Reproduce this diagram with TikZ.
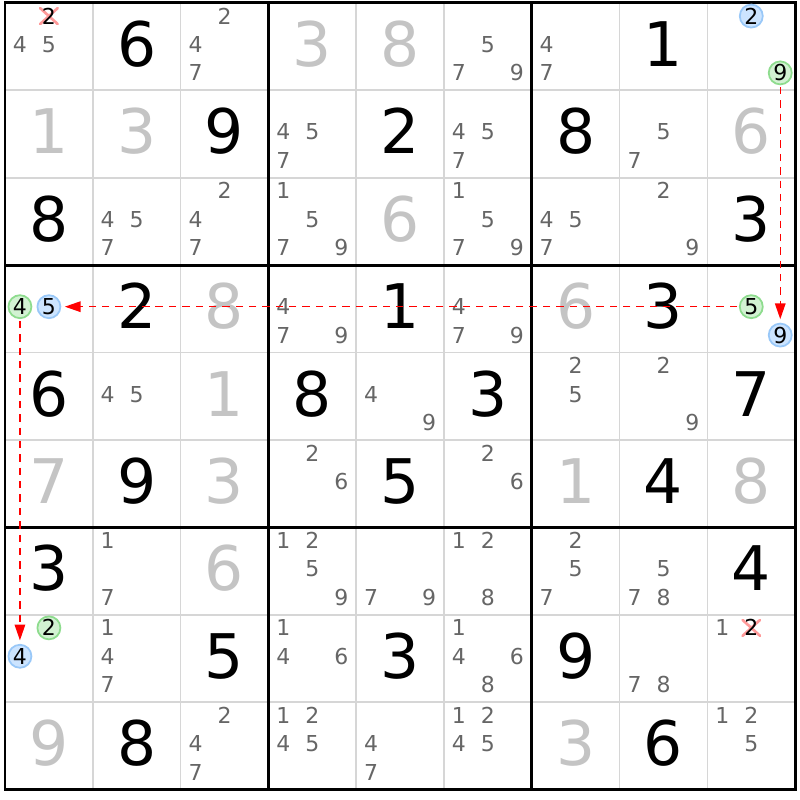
\documentclass[tikz,border=0pt]{standalone}
\usepackage{fontspec}
\setmainfont{DejaVu Sans}
\usetikzlibrary{arrows.meta}

\definecolor{gridgray}{HTML}{D6D6D6}
\definecolor{solvedgray}{HTML}{C4C4C4}
\definecolor{candgray}{HTML}{666666}
\definecolor{bluefill}{HTML}{CCE4FF}
\definecolor{blueline}{HTML}{99C8F8}
\definecolor{greenfill}{HTML}{D2F2D2}
\definecolor{greenline}{HTML}{8EDC8E}
\definecolor{crosspink}{HTML}{FF9A9A}
\definecolor{chainred}{HTML}{FF0000}
\newcommand{\bigsize}{\fontsize{35}{35}\selectfont}
\newcommand{\candsize}{\fontsize{12.5}{12.5}\selectfont}

\begin{document}
\begin{tikzpicture}[x=1.756cm,y=-1.748cm,>={Triangle[length=9pt,width=6pt]},
	given/.style={font=\bigsize,inner sep=0pt,text height=25.5pt,text depth=0pt},
	solved/.style={given,text=solvedgray},
	cand/.style={font=\candsize,text=candgray,inner sep=0pt,text height=9.1pt,text depth=0pt},
	bluecand/.style={cand,text=black,circle,minimum size=.46cm,draw=blueline,fill=bluefill,line width=1pt},
	greencand/.style={bluecand,draw=greenline,fill=greenfill},
	crossed/.style={cand,text=black,minimum width=11pt,minimum height=10pt,
		path picture={\draw[crosspink,line width=1.5pt]
			(path picture bounding box.south west) -- (path picture bounding box.north east)
			(path picture bounding box.north west) -- (path picture bounding box.south east);}},
	chain/.style={->,chainred,line width=.8pt,dash pattern=on 4.2pt off 3.4pt,shorten >=2pt,shorten <=1pt},
	gridline/.style={gridgray,line width=1pt},
	boxline/.style={black,line width=1.7pt,line cap=rect}
	]
	
	\useasboundingbox (-0.057,-0.034) rectangle (9.055,9.119);
	\fill[white] (-0.057,-0.034) rectangle (9.055,9.119);
	
	% the grid
	\foreach \i in {1,2,4,5,7,8}
		\draw[gridline] (\i,0) -- (\i,9) (0,\i) -- (9,\i);
	\foreach \i in {0,3,6,9}
		\draw[boxline] (\i,0) -- (\i,9) (0,\i) -- (9,\i);
	
	% givens and solved cells
	\foreach \rw/\cl/\dg in {1/2/6,1/8/1,2/3/9,2/5/2,2/7/8,3/1/8,3/9/3,4/2/2,4/5/1,4/8/3,
		5/1/6,5/4/8,5/6/3,5/9/7,6/2/9,6/5/5,6/8/4,7/1/3,7/9/4,8/3/5,8/5/3,8/7/9,9/2/8,9/8/6}
		\node[given] (g\rw\cl) at (\cl-.5,\rw-.53) {\dg};
	\foreach \rw/\cl/\dg in {1/4/3,1/5/8,2/1/1,2/2/3,2/9/6,3/5/6,4/3/8,4/7/6,
		5/3/1,6/1/7,6/3/3,6/7/1,6/9/8,7/3/6,9/1/9,9/7/3}
		\node[solved] (g\rw\cl) at (\cl-.5,\rw-.53) {\dg};
	
	% pencil marks
	\foreach \rw/\cl/\ks in {1/1/{4,5},1/3/{2,4,7},1/6/{5,7,9},1/7/{4,7},
		2/4/{4,5,7},2/6/{4,5,7},2/8/{5,7},
		3/2/{4,5,7},3/3/{2,4,7},3/4/{1,5,7,9},3/6/{1,5,7,9},3/7/{4,5,7},3/8/{2,9},
		4/4/{4,7,9},4/6/{4,7,9},
		5/2/{4,5},5/5/{4,9},5/7/{2,5},5/8/{2,9},
		6/4/{2,6},6/6/{2,6},
		7/2/{1,7},7/4/{1,2,5,9},7/5/{7,9},7/6/{1,2,8},7/7/{2,5,7},7/8/{5,7,8},
		8/2/{1,4,7},8/4/{1,4,6},8/6/{1,4,6,8},8/8/{7,8},8/9/{1},
		9/3/{2,4,7},9/4/{1,2,4,5},9/5/{4,7},9/6/{1,2,4,5},9/9/{1,2,5}}
		\foreach \k in \ks {
			\pgfmathtruncatemacro{\kx}{mod(\k-1,3)}
			\pgfmathtruncatemacro{\ky}{(\k-1)/3}
			\node[cand] (c\rw\cl-\k) at (\cl-.83+.33*\kx,\rw-.85+.325*\ky) {\k};
		}
	
	% eliminated candidates
	\node[crossed] (c11-2) at (.5,.15) {2};
	\node[crossed] (c89-2) at (8.5,7.15) {2};
	
	% the chain
	\node[bluecand] (c19-2) at (8.5,.15) {2};
	\node[greencand] (c19-9) at (8.83,.8) {9};
	\node[greencand] (c49-5) at (8.5,3.475) {5};
	\node[bluecand] (c49-9) at (8.83,3.8) {9};
	\node[greencand] (c41-4) at (.17,3.475) {4};
	\node[bluecand] (c41-5) at (.5,3.475) {5};
	\node[greencand] (c81-2) at (.5,7.15) {2};
	\node[bluecand] (c81-4) at (.17,7.475) {4};
	
	\draw[chain] (c19-9) -- (c49-9);
	\draw[chain] (c49-5) -- (c41-5);
	\draw[chain] (c41-4) -- (c81-4);
	
\end{tikzpicture}
\end{document}
